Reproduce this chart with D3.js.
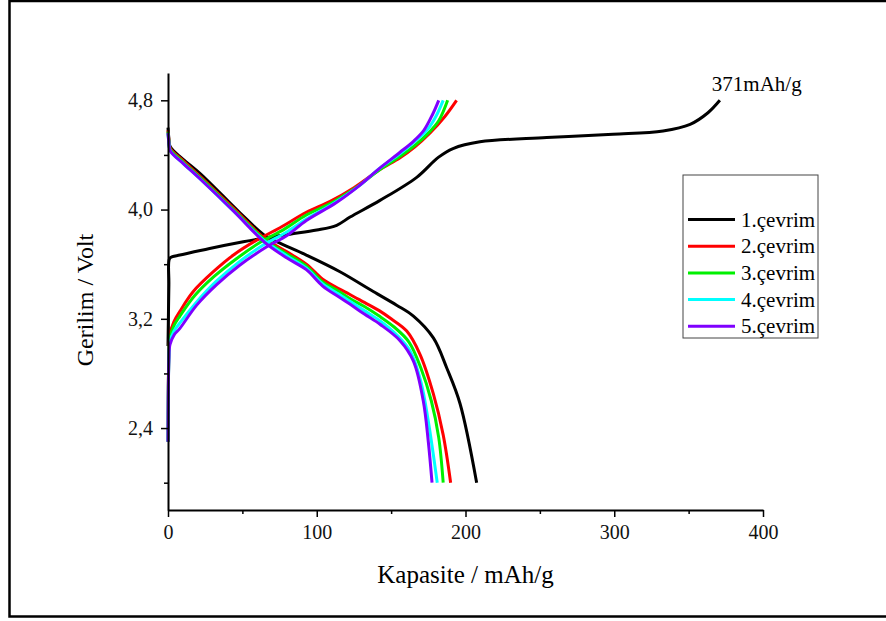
<!DOCTYPE html>
<html>
<head>
<meta charset="utf-8">
<script src="https://cdn.jsdelivr.net/npm/d3@7"></script>
<style>
  body { margin: 0; background: #fff; }
  svg { display: block; }
  svg text { font-family: "Liberation Serif", "Times New Roman", serif; }
</style>
</head>
<body>
<div id="chart"></div>
<script>
// cycle names and colours
const cycles = ['1.çevrim', '2.çevrim', '3.çevrim', '4.çevrim', '5.çevrim'];
const colors = ['#000000', '#ff0000', '#00f000', '#00ffff', '#7f00ff'];

// charge curves [capacity mAh/g, voltage V]
const charge1 = [[0,3.0],[0.6,3.45],[1,3.64],[3,3.655],[8,3.667],[28,3.715],[50.6,3.764],[64,3.79],[82,3.82],[100,3.85],[113.4,3.885],[122.4,3.945],[142.5,4.067],[167.2,4.236],[181.7,4.382],[191.6,4.447],[209.7,4.496],[254.6,4.527],[299.2,4.551],[332.8,4.576],[351,4.624],[363,4.709],[371,4.80]];
const charge2 = [[0,2.30],[0.6,2.95],[1.3,3.085],[4,3.18],[8,3.255],[17,3.40],[30.5,3.545],[44,3.667],[59.6,3.776],[75,3.865],[93,3.98],[109,4.06],[125,4.16],[142,4.29],[156,4.38],[166,4.46],[176,4.56],[186,4.68],[194,4.80]];
const charge3 = [[0,2.30],[0.6,2.93],[1.3,3.06],[4,3.15],[8,3.22],[18,3.37],[31,3.51],[46,3.64],[62,3.76],[78,3.855],[93,3.96],[111,4.055],[127,4.165],[142,4.29],[156,4.39],[166,4.47],[175,4.56],[182,4.65],[188,4.80]];
const charge4 = [[0,2.30],[0.6,2.91],[1.3,3.03],[4,3.11],[8,3.17],[19,3.32],[32,3.47],[47,3.61],[64,3.74],[79,3.83],[93,3.93],[112,4.05],[128,4.17],[142,4.30],[156,4.41],[166,4.50],[174,4.58],[180,4.68],[185,4.80]];
const charge5 = [[0,2.30],[0.6,2.90],[1.3,3.01],[4,3.08],[8,3.13],[19.3,3.30],[32.7,3.45],[48.4,3.594],[66.4,3.727],[80,3.81],[93,3.92],[113,4.05],[128,4.17],[142,4.30],[156,4.42],[165,4.50],[172,4.58],[178,4.70],[182,4.80]];

// discharge curves
const discharge1 = [[0,4.60],[0.5,4.53],[1.5,4.46],[10,4.37],[22,4.26],[48,3.98],[65,3.81],[73,3.765],[93,3.667],[115.6,3.545],[138,3.40],[153.7,3.30],[165,3.22],[178.4,3.06],[187.4,2.84],[196.3,2.58],[207.5,2.0]];
const discharge2 = [[0,4.58],[0.5,4.52],[1.5,4.45],[10,4.36],[22,4.24],[44,4.01],[65,3.79],[80,3.69],[93,3.60],[104,3.49],[115,3.42],[122,3.38],[132,3.32],[142,3.26],[150,3.20],[160.5,3.11],[169.4,2.94],[178.4,2.65],[185,2.35],[190,2.0]];
const discharge3 = [[0,4.57],[0.5,4.51],[1.5,4.44],[10,4.35],[22,4.23],[44,4.00],[65,3.78],[80,3.675],[93,3.585],[104,3.47],[115,3.40],[122,3.35],[132,3.29],[142,3.22],[152,3.14],[162,3.03],[170,2.84],[177,2.60],[182,2.33],[185,2.0]];
const discharge4 = [[0,4.56],[0.5,4.50],[1.5,4.43],[10,4.34],[22,4.22],[44,3.99],[65,3.77],[80,3.66],[93,3.57],[104,3.455],[115,3.38],[122,3.33],[132,3.26],[142,3.19],[154,3.08],[163,2.96],[170,2.74],[175,2.45],[181,2.0]];
const discharge5 = [[0,4.56],[0.5,4.50],[1.5,4.43],[10,4.34],[22,4.22],[44,3.99],[65,3.76],[80,3.645],[93,3.56],[104,3.44],[115,3.36],[122,3.31],[132,3.235],[142.5,3.16],[156,3.04],[165,2.89],[171.6,2.60],[175,2.30],[177.5,2.0]];

const xTicks = [0, 100, 200, 300, 400];
const xMinor = [50, 150, 250, 350];
const yTicks = [2.4, 3.2, 4.0, 4.8];
const yMinor = [2.0, 2.8, 3.6, 4.4];

const charges = [charge1, charge2, charge3, charge4, charge5];
const discharges = [discharge1, discharge2, discharge3, discharge4, discharge5];

const width = 886, height = 621;
const margin = { top: 73, right: 123, bottom: 111, left: 168 };
const serif = '"Liberation Serif", "Times New Roman", serif';

const svg = d3.select('#chart').append('svg')
    .attr('width', width)
    .attr('height', height);

// outer frame
svg.append('path')
    .attr('d', `M ${width + 5} 1 H 9.5 V 616.5 H ${width + 5}`)
    .attr('fill', 'none')
    .attr('stroke', '#000')
    .attr('stroke-width', 2.5);

const x = d3.scaleLinear().domain([0, 400]).range([margin.left, width - margin.right]);
const y = d3.scaleLinear().domain([1.8, 5.0]).range([height - margin.bottom, margin.top]);

const line = d3.line()
    .x(d => x(d[0]))
    .y(d => y(d[1]))
    .curve(d3.curveCatmullRom.alpha(0.5));

const g = svg.append('g');
cycles.forEach((c, i) => {
    [charges[i], discharges[i]].forEach(data => {
        g.append('path')
            .datum(data)
            .attr('d', line)
            .attr('fill', 'none')
            .attr('stroke', colors[i])
            .attr('stroke-width', 3)
            .attr('stroke-linejoin', 'round');
    });
});

// axes
const fmt = d => d3.format('.1f')(d).replace('.', ',');
svg.append('g')
    .attr('transform', `translate(0,${y(1.8)})`)
    .call(d3.axisBottom(x).tickValues(xTicks).tickSize(7).tickSizeOuter(0).tickPadding(8).tickFormat(d3.format('d')));
svg.append('g')
    .attr('transform', `translate(0,${y(1.8)})`)
    .call(d3.axisBottom(x).tickValues(xMinor).tickSize(4).tickSizeOuter(0).tickFormat(''))
    .select('.domain').remove();

svg.append('g')
    .attr('transform', `translate(${x(0)},0)`)
    .call(d3.axisLeft(y).tickValues(yTicks).tickSize(7).tickSizeOuter(0).tickPadding(8).tickFormat(fmt));
svg.append('g')
    .attr('transform', `translate(${x(0)},0)`)
    .call(d3.axisLeft(y).tickValues(yMinor).tickSize(4).tickSizeOuter(0).tickFormat(''))
    .select('.domain').remove();

svg.selectAll('.domain').attr('stroke-width', 2);
svg.selectAll('.tick line').attr('stroke-width', 1.5);
svg.selectAll('.tick text')
    .attr('font-family', serif)
    .attr('font-size', 20)
    .attr('fill', '#111');

// axis titles
svg.append('text')
    .attr('x', (x(0) + x(400)) / 2)
    .attr('y', 583)
    .attr('text-anchor', 'middle')
    .attr('font-family', serif)
    .attr('font-size', 25)
    .text('Kapasite / mAh/g');

svg.append('text')
    .attr('transform', `translate(93,300) rotate(-90)`)
    .attr('text-anchor', 'middle')
    .attr('font-family', serif)
    .attr('font-size', 24)
    .text('Gerilim / Volt');

// annotation at end of first charge
svg.append('text')
    .attr('x', x(371) - 8)
    .attr('y', 91)
    .attr('font-family', serif)
    .attr('font-size', 21)
    .text('371mAh/g');

// legend
const legend = svg.append('g').attr('transform', 'translate(683,175)');
legend.append('rect')
    .attr('width', 135)
    .attr('height', 163)
    .attr('fill', '#fff')
    .attr('stroke', '#444')
    .attr('stroke-width', 1);
cycles.forEach((c, i) => {
    const ly = 44.5 + i * 26.7;
    legend.append('line')
        .attr('x1', 5).attr('x2', 52)
        .attr('y1', ly).attr('y2', ly)
        .attr('stroke', colors[i])
        .attr('stroke-width', 3);
    legend.append('text')
        .attr('x', 58)
        .attr('y', ly + 7)
        .attr('font-family', serif)
        .attr('font-size', 21)
        .text(c);
});
</script>
</body>
</html>
